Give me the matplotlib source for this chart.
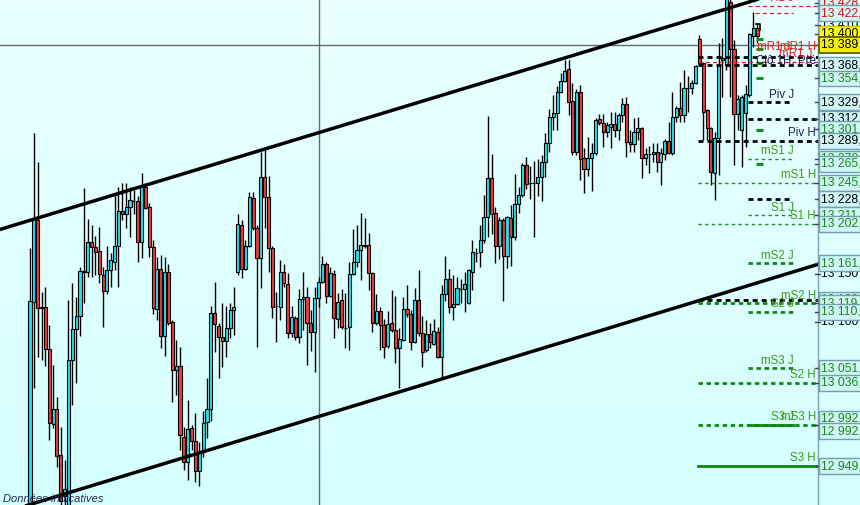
import numpy as np
import matplotlib
matplotlib.use("Agg")
import matplotlib.pyplot as plt

plt.rcParams["font.family"] = ["Liberation Sans", "DejaVu Sans"]
plt.rcParams["lines.scale_dashes"] = False

# OHLC, one bar per entry
opens = [
    12898, 13120, 13206, 13115, 13115, 13071, 12993, 13009, 12961, 12918,
    12908, 13060, 13092, 13106, 13152, 13152, 13183, 13178, 13174, 13149,
    13132, 13154, 13162, 13179, 13216, 13212, 13220, 13226, 13226, 13183,
    13241, 13220, 13178, 13113, 13155, 13085, 13152, 13100, 13049, 13054,
    12979, 12953, 12989, 12975, 12944, 12964, 12995, 13009, 13109, 13095,
    13084, 13080, 13093, 13112, 13152, 13201, 13155, 13179, 13229, 13198,
    13166, 13251, 13230, 13177, 13116, 13115, 13152, 13139, 13088, 13104,
    13084, 13124, 13126, 13098, 13089, 13125, 13141, 13160, 13127, 13150,
    13103, 13122, 13093, 13094, 13150, 13162, 13175, 13180, 13180, 13151,
    13098, 13111, 13096, 13074, 13098, 13091, 13072, 13081, 13113, 13108,
    13079, 13122, 13088, 13070, 13087, 13077, 13089, 13063, 13129, 13144,
    13115, 13118, 13134, 13134, 13119, 13152, 13172, 13173, 13185, 13209,
    13250, 13213, 13179, 13206, 13168, 13208, 13188, 13223, 13232, 13264,
    13245, 13245, 13245, 13251, 13267, 13287, 13314, 13318, 13340, 13351,
    13364, 13330, 13277, 13340, 13271, 13259, 13271, 13276, 13312, 13307,
    13298, 13303, 13306, 13300, 13316, 13327, 13288, 13286, 13298, 13302,
    13271, 13275, 13275, 13277, 13267, 13275, 13289, 13276, 13314, 13323,
    13316, 13344, 13344, 13349, 13395, 13370, 13321, 13302, 13255, 13292,
    13373, 13368, 13434, 13385, 13317, 13300, 13318, 13337, 13398, 13407,
]
highs = [
    13177, 13297, 13267, 13131, 13136, 13096, 13055, 13021, 12990, 12955,
    13122, 13140, 13126, 13157, 13240, 13207, 13201, 13189, 13199, 13157,
    13179, 13172, 13232, 13241, 13245, 13245, 13241, 13237, 13231, 13255,
    13245, 13224, 13185, 13167, 13170, 13167, 13160, 13102, 13081, 13073,
    12990, 13018, 12992, 13004, 12974, 13007, 13041, 13116, 13141, 13098,
    13119, 13116, 13119, 13136, 13212, 13206, 13185, 13235, 13235, 13201,
    13277, 13279, 13252, 13179, 13131, 13164, 13160, 13151, 13116, 13106,
    13134, 13152, 13136, 13112, 13136, 13147, 13168, 13162, 13157, 13154,
    13130, 13134, 13130, 13162, 13197, 13201, 13213, 13208, 13193, 13152,
    13129, 13115, 13103, 13111, 13133, 13127, 13093, 13126, 13138, 13112,
    13135, 13154, 13106, 13102, 13098, 13103, 13094, 13138, 13169, 13155,
    13149, 13147, 13144, 13152, 13155, 13185, 13177, 13201, 13232, 13315,
    13275, 13220, 13209, 13208, 13210, 13222, 13254, 13241, 13266, 13272,
    13263, 13268, 13270, 13274, 13297, 13322, 13337, 13346, 13360, 13373,
    13373, 13349, 13343, 13347, 13281, 13293, 13287, 13313, 13317, 13317,
    13308, 13319, 13319, 13318, 13334, 13335, 13300, 13313, 13314, 13303,
    13281, 13283, 13287, 13287, 13281, 13291, 13309, 13340, 13325, 13350,
    13363, 13357, 13352, 13368, 13399, 13371, 13322, 13303, 13298, 13391,
    13396, 13444, 13441, 13394, 13337, 13337, 13347, 13401, 13423, 13411,
]
lows = [
    12890, 13031, 13063, 13060, 13054, 12976, 12989, 12948, 12908, 12903,
    12903, 13013, 13036, 13085, 13119, 13147, 13147, 13149, 13140, 13094,
    13129, 13136, 13154, 13136, 13206, 13198, 13188, 13212, 13162, 13166,
    13218, 13167, 13108, 13102, 13072, 13064, 13096, 13016, 13023, 12966,
    12945, 12934, 12966, 12932, 12928, 12958, 12978, 12996, 13068, 13041,
    13052, 13063, 13083, 13086, 13149, 13145, 13154, 13178, 13196, 13073,
    13135, 13198, 13152, 13104, 13079, 13102, 13136, 13083, 13084, 13081,
    13078, 13091, 13055, 13069, 13047, 13115, 13140, 13119, 13126, 13083,
    13093, 13092, 13072, 13070, 13149, 13157, 13143, 13177, 13133, 13089,
    13096, 13070, 13062, 13072, 13089, 13057, 13031, 13080, 13105, 13070,
    13078, 13085, 13052, 13068, 13072, 13076, 13062, 13041, 13121, 13109,
    13102, 13117, 13119, 13110, 13118, 13133, 13162, 13157, 13182, 13188,
    13191, 13161, 13165, 13121, 13156, 13158, 13185, 13213, 13230, 13238,
    13228, 13188, 13231, 13226, 13251, 13277, 13300, 13300, 13339, 13350,
    13316, 13274, 13274, 13248, 13234, 13252, 13236, 13274, 13305, 13282,
    13293, 13281, 13293, 13290, 13308, 13272, 13277, 13277, 13290, 13250,
    13264, 13255, 13267, 13256, 13243, 13269, 13275, 13274, 13309, 13308,
    13308, 13319, 13338, 13348, 13368, 13290, 13290, 13243, 13227, 13253,
    13335, 13363, 13335, 13264, 13300, 13261, 13282, 13335, 13387, 13391,
]
closes = [
    13121, 13206, 13114, 13114, 13071, 12994, 13009, 12959, 12913, 12925,
    13060, 13092, 13106, 13153, 13153, 13183, 13178, 13173, 13150, 13132,
    13154, 13164, 13179, 13216, 13212, 13220, 13227, 13226, 13183, 13241,
    13219, 13178, 13114, 13155, 13085, 13152, 13098, 13049, 13054, 12981,
    12953, 12988, 12975, 12944, 12964, 12994, 13009, 13109, 13097, 13084,
    13080, 13093, 13112, 13115, 13202, 13155, 13179, 13230, 13198, 13166,
    13251, 13230, 13177, 13115, 13116, 13152, 13140, 13088, 13105, 13084,
    13124, 13126, 13098, 13089, 13125, 13141, 13160, 13127, 13151, 13104,
    13120, 13094, 13093, 13150, 13162, 13175, 13180, 13179, 13151, 13098,
    13111, 13096, 13073, 13097, 13091, 13072, 13082, 13113, 13108, 13079,
    13122, 13088, 13068, 13087, 13079, 13090, 13063, 13129, 13144, 13115,
    13118, 13135, 13134, 13139, 13154, 13173, 13172, 13185, 13209, 13250,
    13212, 13179, 13206, 13168, 13209, 13188, 13223, 13232, 13264, 13244,
    13245, 13245, 13251, 13267, 13287, 13314, 13318, 13340, 13351, 13362,
    13329, 13277, 13340, 13270, 13259, 13271, 13276, 13311, 13307, 13298,
    13305, 13306, 13300, 13316, 13327, 13288, 13286, 13298, 13302, 13271,
    13275, 13275, 13277, 13267, 13276, 13289, 13276, 13314, 13323, 13316,
    13344, 13344, 13349, 13367, 13370, 13319, 13302, 13256, 13292, 13368,
    13375, 13438, 13385, 13317, 13333, 13335, 13338, 13400, 13407, 13398,
]

# trend channel, anchor points (bar index, price)
channel_bars = [-8, 205]
channel_top = [13196, 13456]
channel_bottom = [12899, 13160]

cursor_bar = 75
cursor_price = 13389

# pivot levels drawn on the right part of the chart
level_names = ["R1 J", "", "", "", "", "Piv J", "", "Piv H", "mS1 J", "mS1 H", "",
               "S1 J", "S1 H", "mS2 J", "", "mS2 H", "S2 J", "mS3 J", "S2 H",
               "S3 J", "mS3 H", "S3 H"]
level_prices = [13430, 13422, 13376, 13371, 13368, 13329, 13312, 13289, 13270, 13245,
                13228, 13211, 13202, 13161, 13123, 13119, 13110, 13051, 13036,
                12992, 12992, 12949]
level_kinds = ["J+", "Js", "H", "H", "H", "J", "J+", "H", "J", "H", "J",
               "J", "H", "J", "H", "H", "J", "J", "H", "J", "H", "H"]
level_looks = ["red", "red", "black", "red", "black", "black", "black", "black",
               "green_thin", "green_thin", "black", "green_thin", "green_thin",
               "green", "black", "green", "green", "green", "green",
               "green_solid", "green", "green_solid"]

# short green marks next to the last bars
mark_prices = [13395, 13385, 13370, 13354, 13300, 13265]

# price tags in the right margin
tag_prices = [13433, 13422, 13410, 13400, 13389, 13368, 13354, 13329, 13312, 13301,
              13289, 13270, 13265, 13245, 13228, 13211, 13202, 13161, 13150, 13123,
              13119, 13100, 13110, 13051, 13036, 12992, 12992, 12949]
tag_texts = ["13 428,", "13 422,", "13 410", "13 400", "13 389", "13 368,", "13 354,",
             "13 329,", "13 312,", "13 301,", "13 289,", "13 270", "13 265,", "13 245,",
             "13 228,", "13 211,", "13 202,", "13 161,", "13 150", "13 123", "13 119,",
             "13 100", "13 110,", "13 051,", "13 036,", "12 992,", "12 992,", "12 949,"]
tag_kinds = ["red", "red", "plain", "yellow", "current", "black", "green", "black",
             "black", "green", "black", "green", "green", "green", "black", "green",
             "green", "green", "plain", "green", "green", "plain", "green", "green",
             "green", "green", "green", "green"]
tag_shift = [0] * len(tag_prices)
tag_shift[25] = 4.5
tag_shift[26] = -4.5

CYAN = "#20e2ef"
RED = "#f23a3a"
GREEN = "#178a17"
LABEL_GREEN = "#3e9a12"
NAVY = "#1e1e5a"

LOOKS = {
    "red": dict(color="#e02020", lw=0.9, dashes=(3.0, 2.2)),
    "black": dict(color="black", lw=2.0, dashes=(3.6, 2.9)),
    "green_thin": dict(color="#1a8f1a", lw=1.0, dashes=(2.4, 2.4)),
    "green": dict(color="#0f870f", lw=2.0, dashes=(3.2, 2.6)),
    "green_solid": dict(color="#0f870f", lw=2.0, dashes=None),
}
TAGS = {
    "red": dict(tc="#e01010", fc="#d2f6f6", ec="#6f9fb0"),
    "green": dict(tc=GREEN, fc="#d2f6f6", ec="#6f9fb0"),
    "black": dict(tc="black", fc="#d2f6f6", ec="#6f9fb0"),
    "yellow": dict(tc="black", fc="#ffff00", ec="#c8c000"),
    "current": dict(tc="black", fc="#f4ee10", ec="#606000"),
}


def px_to_bar(px):
    return (px - 30) / 3.847


def main():
    fig = plt.figure(figsize=(8.6, 5.05), dpi=100)

    bg = fig.add_axes([0, 0, 1, 1], zorder=0)
    grad = np.linspace(0, 1, 256)[:, None]
    top = np.array([0.915, 1.0, 1.0])
    bottom = np.array([0.835, 1.0, 1.0])
    img = top + (bottom - top) * grad[:, :, None]
    bg.imshow(np.repeat(img, 2, axis=1), aspect="auto", extent=[0, 1, 0, 1])
    bg.axis("off")

    ax = fig.add_axes([0, 0, 818 / 860, 1], zorder=1)
    ax.set_facecolor("none")
    ax.set_xlim(px_to_bar(0), px_to_bar(818))
    ax.set_ylim(12908.3, 13436)
    for side in ("top", "bottom", "left"):
        ax.spines[side].set_visible(False)
    ax.spines["right"].set_color("#7f9fb5")
    ax.spines["right"].set_linewidth(1.0)
    ax.set_xticks([])
    ax.set_yticks([])

    o = np.array(opens, dtype=float)
    c = np.array(closes, dtype=float)
    idx = np.arange(len(o))
    colors = np.where(c > o, CYAN, np.where(c < o, RED, "black"))

    ax.vlines(idx, lows, highs, color="black", lw=1.0, zorder=2)
    ax.bar(idx, np.abs(c - o), bottom=np.minimum(o, c), width=0.8,
           color=colors, edgecolor="black", linewidth=0.8, zorder=2.5)

    ax.axvline(cursor_bar, color="#6a6a6a", lw=1.0, zorder=1.5)
    ax.axhline(cursor_price, color="#6a6a6a", lw=1.0, zorder=1.5)

    ax.plot(channel_bars, channel_top, color="black", lw=2.5, zorder=4,
            solid_capstyle="butt")
    ax.plot(channel_bars, channel_bottom, color="black", lw=2.5, zorder=4,
            solid_capstyle="butt")

    h_start, j_start, j_end, right = px_to_bar(698), px_to_bar(748), px_to_bar(793), px_to_bar(818)
    spans = {"H": (h_start, right), "J": (j_start, j_end), "J+": (j_start, right),
             "Js": (px_to_bar(755), j_end)}
    for name, price, kind, look in zip(level_names, level_prices, level_kinds, level_looks):
        st = LOOKS[look]
        x0, x1 = spans[kind]
        line, = ax.plot([x0, x1], [price, price], color=st["color"], lw=st["lw"], zorder=3)
        if st["dashes"]:
            line.set_dashes(st["dashes"])
        if name:
            lx = px_to_bar(816) if kind == "H" else px_to_bar(794)
            col = NAVY if name.startswith("Piv") else ("#e02020" if name.startswith("R") else LABEL_GREEN)
            ax.annotate(name, xy=(lx, price), xytext=(0, 1.2), textcoords="offset points",
                        ha="right", va="bottom", fontsize=8.3, color=col, zorder=5,
                        annotation_clip=False)

    for text, price, px, col in [("mR1 J", 13387, 790, "#e02020"), ("mR1 H", 13387, 816, "#e02020"),
                                 ("mR1 J", 13380, 812, "#e02020"), ("Clô 1H, Pré", 13373, 816, NAVY)]:
        ax.text(px_to_bar(px), price, text, ha="right", va="center", fontsize=8.3,
                color=col, zorder=5)

    ax.hlines(mark_prices, px_to_bar(756), px_to_bar(763), color="#139413", lw=2.2, zorder=3)
    ax.plot([px_to_bar(756), px_to_bar(760), px_to_bar(760)], [13411, 13411, 13405],
            color="black", lw=1.2, zorder=3)

    ytr = ax.get_yaxis_transform()
    for price, text, kind, dy in zip(tag_prices, tag_texts, tag_kinds, tag_shift):
        ax.plot([0.9965, 1.0025], [price, price], transform=ytr, color="#334455",
                lw=1.0, clip_on=False, zorder=5)
        if kind == "plain":
            ax.annotate(text, xy=(1.0, price), xycoords=ytr, xytext=(2.4, dy),
                        textcoords="offset points", ha="left", va="center",
                        fontsize=8.8, color="black", annotation_clip=False, zorder=5)
            continue
        st = TAGS[kind]
        ax.annotate(text + "      ", xy=(1.0, price), xycoords=ytr, xytext=(2.4, dy),
                    textcoords="offset points", ha="left", va="center",
                    fontsize=8.8, color=st["tc"], annotation_clip=False, zorder=6,
                    bbox=dict(boxstyle="square,pad=0.16", fc=st["fc"], ec=st["ec"],
                              lw=1.0 if kind != "current" else 1.3))

    fig.text(3 / 860, 1 - 499 / 505, "Données indicatives", ha="left", va="center",
             fontsize=8, style="italic", color="#26264a", zorder=7)

    fig.savefig("out.png", dpi=100)
    plt.close(fig)


if __name__ == "__main__":
    main()
